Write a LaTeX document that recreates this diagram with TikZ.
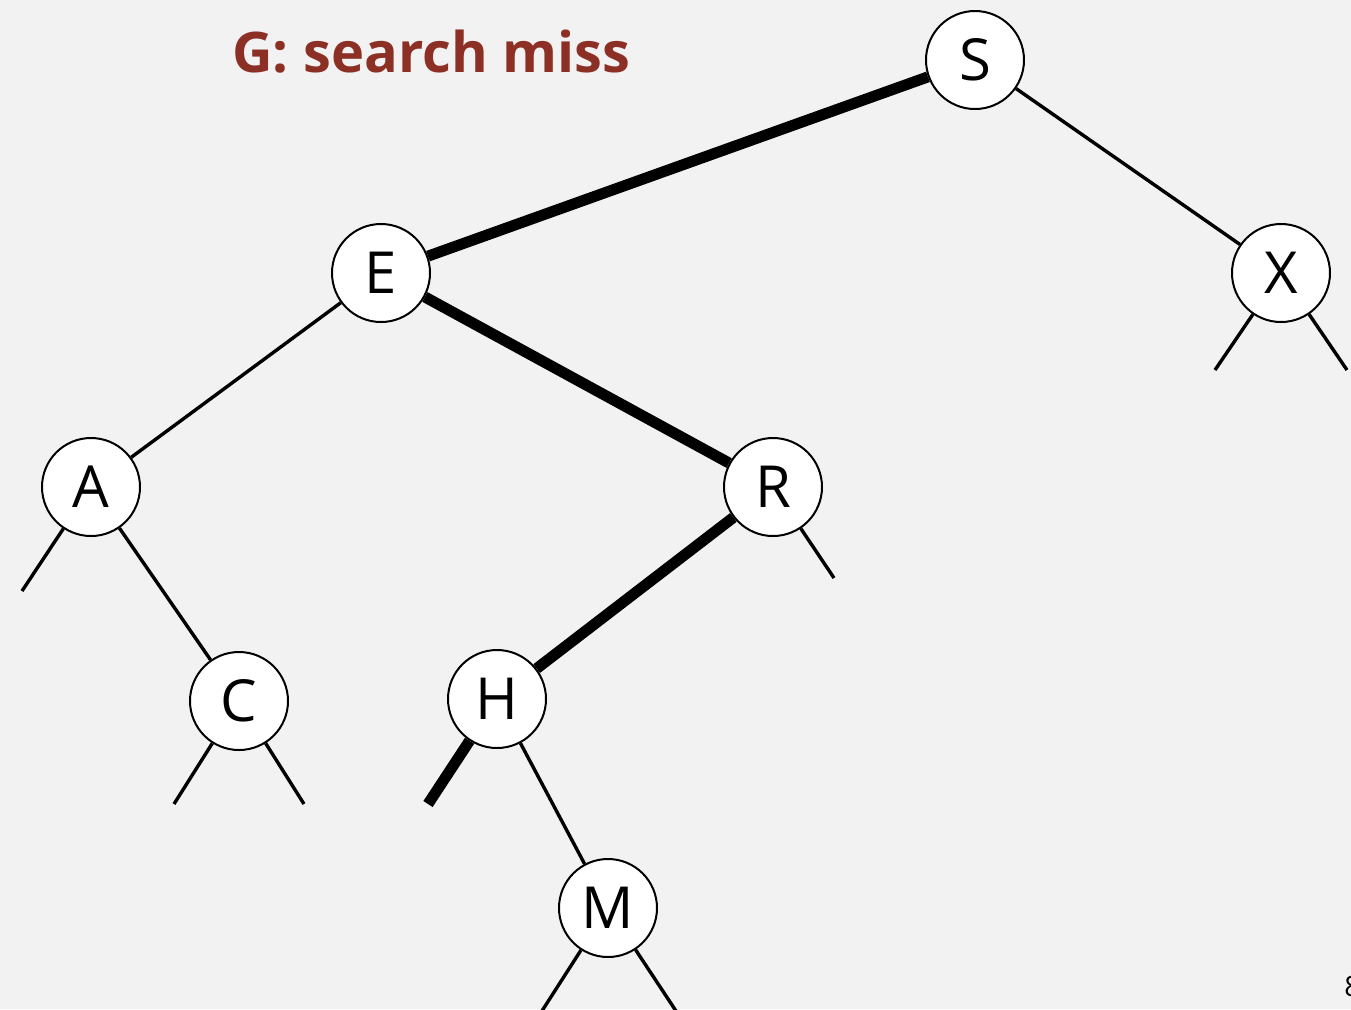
\documentclass[tikz,border=0pt]{standalone}
\usepackage{fontspec}
\setmainfont{Open Sans}
\begin{document}
\definecolor{bg}{HTML}{F2F2F2}
\definecolor{titlered}{RGB}{140,48,38}
\begin{tikzpicture}[x=0.5pt,y=-0.5pt,
  keynode/.style={circle,draw=black,line width=1pt,fill=white,minimum size=49pt,inner sep=0pt,font=\fontsize{29}{29}\selectfont},
  link/.style={line width=1.7pt},
  pathlink/.style={line width=5.5pt},
  title/.style={font=\fontsize{28}{28}\selectfont\bfseries,text=titlered,anchor=base west,inner sep=0pt}]
  \fill[bg] (0,0) rectangle (1351,1009);
  \useasboundingbox (0,0) rectangle (1351,1009);
  \clip (0,0) rectangle (1351,1009);

  % null-link end points
  \coordinate (xl) at (1215,370);
  \coordinate (xr) at (1347,370);
  \coordinate (al) at (22,591);
  \coordinate (rr) at (834,578);
  \coordinate (cl) at (174,804);
  \coordinate (cr) at (304,804);
  \coordinate (hl) at (428,804);
  \coordinate (ml) at (540,1014);
  \coordinate (mr) at (678,1014);

  % keys
  \node[keynode] (S) at (975,60) {S};
  \node[keynode] (E) at (381,273) {E};
  \node[keynode] (X) at (1281,273) {X};
  \node[keynode] (A) at (91,487) {A};
  \node[keynode] (R) at (773,487) {R};
  \node[keynode] (C) at (239,701) {C};
  \node[keynode] (H) at (497,699) {H};
  \node[keynode] (M) at (608,908) {M};

  % search path
  \draw[pathlink] (S) -- (E);
  \draw[pathlink] (E) -- (R);
  \draw[pathlink] (R) -- (H);
  \draw[pathlink] (H) -- (hl);
  % remaining links
  \draw[link] (S) -- (X);
  \draw[link] (E) -- (A);
  \draw[link] (A) -- (C);
  \draw[link] (H) -- (M);
  \draw[link] (X) -- (xl);
  \draw[link] (X) -- (xr);
  \draw[link] (A) -- (al);
  \draw[link] (R) -- (rr);
  \draw[link] (C) -- (cl);
  \draw[link] (C) -- (cr);
  \draw[link] (M) -- (ml);
  \draw[link] (M) -- (mr);

  \node[title] (t) at (232,72) {G: search miss};
  \node[anchor=base west,inner sep=0pt,font=\fontsize{14}{14}\selectfont] (pg) at (1344,996) {8};
\end{tikzpicture}
\end{document}
